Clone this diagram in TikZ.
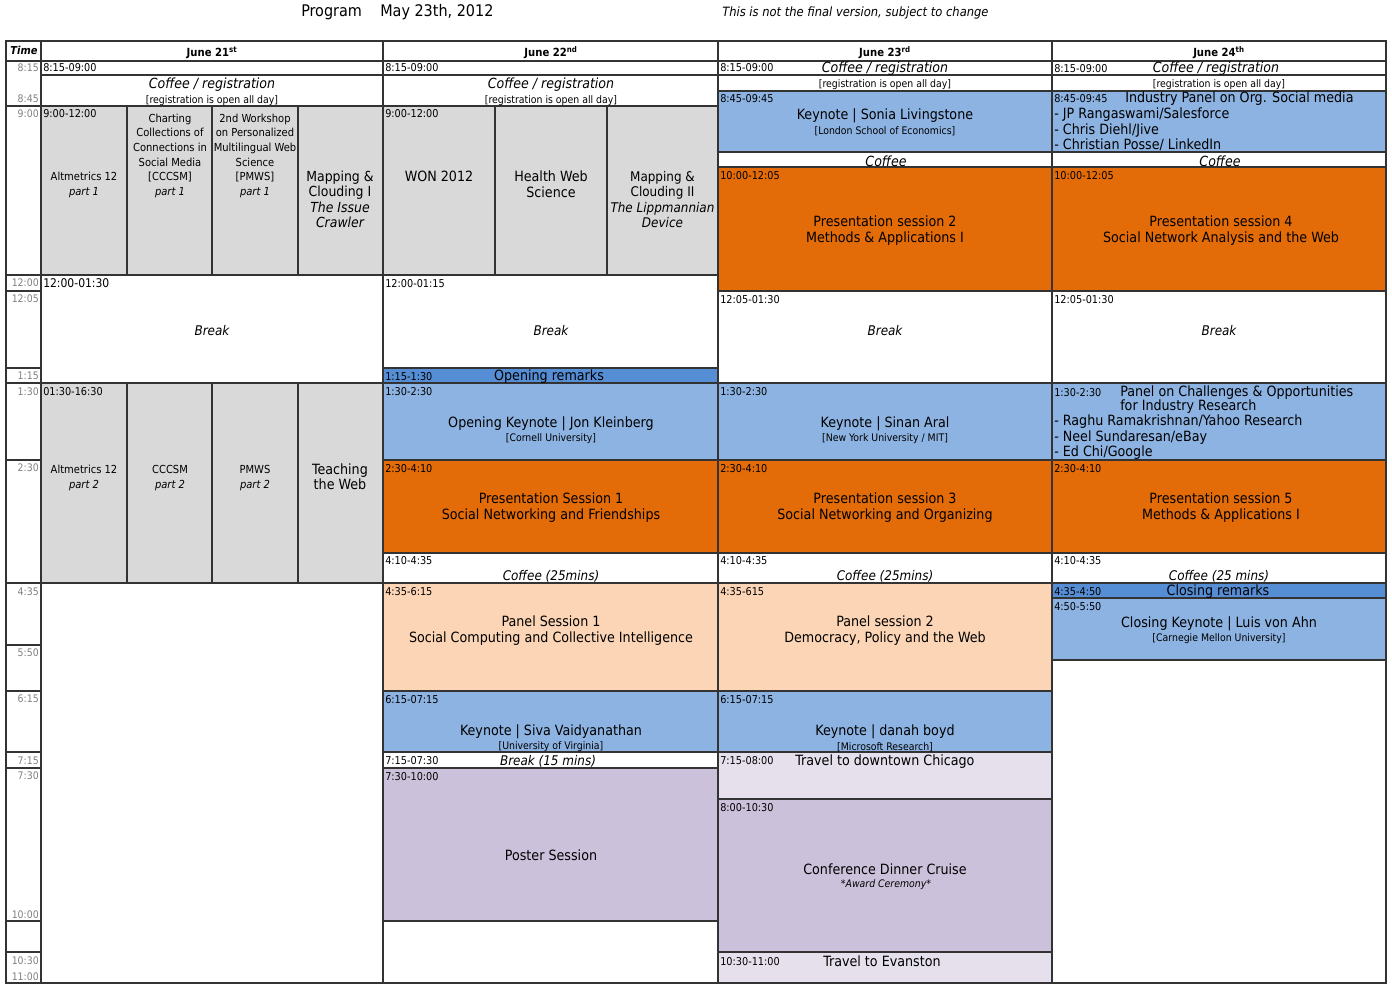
\documentclass[tikz,border=0pt]{standalone}
\usepackage{fontspec}
\setmainfont{DejaVu Sans Condensed}
\definecolor{cgray}{HTML}{D9D9D9}
\definecolor{lblue}{HTML}{8DB3E2}
\definecolor{mblue}{HTML}{558ED5}
\definecolor{orng}{HTML}{E36C09}
\definecolor{peach}{HTML}{FBD5B5}
\definecolor{lav}{HTML}{CCC1DA}
\definecolor{llav}{HTML}{E5E0EC}
\definecolor{tgray}{HTML}{808080}
\definecolor{lines}{HTML}{333333}
\newcommand\bx[5]{\path[boxline,fill=#5] (#1,#2) rectangle (#3,#4);}
\begin{document}
\begin{tikzpicture}[x=0.75pt,y=-0.75pt,
  boxline/.style={draw=lines,line width=0.9pt},
  tl/.style={anchor=west,inner sep=0pt,font=\fontsize{8.1}{9}\selectfont},
  gl/.style={anchor=east,inner sep=0pt,text=tgray,font=\fontsize{7.8}{9}\selectfont},
  big/.style={inner sep=0pt,align=center,yshift=-1.1pt,font=\fontsize{10.6}{12}\selectfont},
  bigl/.style={inner sep=0pt,anchor=west,align=left,yshift=-0.8pt,font=\fontsize{10.6}{12}\selectfont},
  ital/.style={inner sep=0pt,align=center,yshift=-1pt,font=\fontsize{10.5}{12}\selectfont\itshape},
  sm/.style={inner sep=0pt,align=center,yshift=-0.8pt,font=\fontsize{7.8}{9}\selectfont},
  mid/.style={inner sep=0pt,align=center,yshift=-1pt,font=\fontsize{8.3}{10.95}\selectfont},
  hd/.style={inner sep=0pt,font=\fontsize{8.4}{10}\selectfont\bfseries},
]
\useasboundingbox (0,0) rectangle (1392,990);
\fill[white] (0,0) rectangle (1392,990);
% title
\node[anchor=west,inner sep=0pt,font=\fontsize{12}{14}\selectfont] (prog) at (301,12) {Program};
\node[anchor=west,inner sep=0pt,font=\fontsize{12}{14}\selectfont] (date) at (380,12) {May 23th, 2012};
\node[anchor=west,inner sep=0pt,font=\fontsize{9.6}{11}\selectfont\itshape] (note) at (722,13) {This is not the final version, subject to change};
% header
\bx{6}{41}{41}{61}{white}
\bx{41}{41}{383}{61}{white}
\bx{383}{41}{718}{61}{white}
\bx{718}{41}{1052}{61}{white}
\bx{1052}{41}{1386}{61}{white}
\node[hd,font=\fontsize{8.2}{10}\selectfont\bfseries\itshape] (time) at (24,50) {Time};
\node[hd] (d21) at (212,53) {June 21\textsuperscript{st}};
\node[hd] (d22) at (551,53) {June 22\textsuperscript{nd}};
\node[hd] (d23) at (885,53) {June 23\textsuperscript{rd}};
\node[hd] (d24) at (1219,53) {June 24\textsuperscript{th}};
% time column
\bx{6}{61}{41}{106}{white}
\bx{6}{106}{41}{275}{white}
\bx{6}{275}{41}{291}{white}
\bx{6}{291}{41}{368}{white}
\bx{6}{368}{41}{383}{white}
\bx{6}{383}{41}{460}{white}
\bx{6}{460}{41}{583}{white}
\bx{6}{583}{41}{645}{white}
\bx{6}{645}{41}{691}{white}
\bx{6}{691}{41}{752}{white}
\bx{6}{752}{41}{768}{white}
\bx{6}{768}{41}{921}{white}
\bx{6}{921}{41}{952}{white}
\bx{6}{952}{41}{983}{white}
\node[gl] (t815) at (39,68) {8:15};
\node[gl] (t845) at (39,99) {8:45};
\node[gl] (t900) at (39,114) {9:00};
\node[gl] (t1200) at (39,283) {12:00};
\node[gl] (t1205) at (39,299) {12:05};
\node[gl] (t115) at (39,376) {1:15};
\node[gl] (t130) at (39,392) {1:30};
\node[gl] (t230) at (39,468) {2:30};
\node[gl] (t435) at (39,592) {4:35};
\node[gl] (t550) at (39,653) {5:50};
\node[gl] (t615) at (39,699) {6:15};
\node[gl] (t715) at (39,761) {7:15};
\node[gl] (t730) at (39,776) {7:30};
\node[gl] (t1000) at (39,915) {10:00};
\node[gl] (t1030) at (39,961) {10:30};
\node[gl] (t1100) at (39,977) {11:00};
% ================= June 21
\bx{41}{61}{383}{75}{white}
\bx{41}{75}{383}{106}{white}
\bx{41}{106}{127}{275}{cgray}
\bx{127}{106}{212}{275}{cgray}
\bx{212}{106}{298}{275}{cgray}
\bx{298}{106}{383}{275}{cgray}
\bx{41}{275}{383}{383}{white}
\bx{41}{383}{127}{583}{cgray}
\bx{127}{383}{212}{583}{cgray}
\bx{212}{383}{298}{583}{cgray}
\bx{298}{383}{383}{583}{cgray}
\bx{41}{583}{383}{983}{white}
\node[tl] (a1) at (43,68) {8:15-09:00};
\node[ital] (a2) at (212,83) {Coffee / registration};
\node[sm] (a3) at (212,99.5) {[registration is open all day]};
\node[tl] (a4) at (43,114) {9:00-12:00};
\node[mid] (a5) at (84,183.5) {Altmetrics 12\\\itshape part 1};
\node[mid] (a6) at (170,154.5) {Charting\\Collections of\\Connections in\\Social Media\\{[CCCSM]}\\\itshape part 1};
\node[mid] (a7) at (255,154.5) {2nd Workshop\\on Personalized\\Multilingual Web\\Science\\{[PMWS]}\\\itshape part 1};
\node[big,font=\fontsize{10.4}{11.5}\selectfont] (a8) at (340,198) {Mapping \&\\Clouding I\\\itshape The Issue\\\itshape Crawler};
\node[tl] (a9) at (43,283.5) {\fontsize{9}{10}\selectfont 12:00-01:30};
\node[ital,font=\fontsize{10}{12}\selectfont\itshape] (a10) at (212,329) {Break};
\node[tl] (a11) at (43,392) {01:30-16:30};
\node[mid] (a12) at (84,476.5) {Altmetrics 12\\\itshape part 2};
\node[mid] (a13) at (170,476.5) {CCCSM\\\itshape part 2};
\node[mid] (a14) at (255,476.5) {PMWS\\\itshape part 2};
\node[big,font=\fontsize{10.6}{11.5}\selectfont] (a15) at (340,475.5) {Teaching\\the Web};
% ================= June 22
\bx{383}{61}{718}{75}{white}
\bx{383}{75}{718}{106}{white}
\bx{383}{106}{495}{275}{cgray}
\bx{495}{106}{607}{275}{cgray}
\bx{607}{106}{718}{275}{cgray}
\bx{383}{275}{718}{368}{white}
\bx{383}{368}{718}{383}{mblue}
\bx{383}{383}{718}{460}{lblue}
\bx{383}{460}{718}{553}{orng}
\bx{383}{553}{718}{583}{white}
\bx{383}{583}{718}{691}{peach}
\bx{383}{691}{718}{752}{lblue}
\bx{383}{752}{718}{768}{white}
\bx{383}{768}{718}{921}{lav}
\bx{383}{921}{718}{983}{white}
\node[tl] (b1) at (385,68) {8:15-09:00};
\node[ital] (b2) at (551,83) {Coffee / registration};
\node[sm] (b3) at (551,99.5) {[registration is open all day]};
\node[tl] (b4) at (385,114) {9:00-12:00};
\node[big] (b5) at (439,175) {WON 2012};
\node[big] (b6) at (551,182.5) {Health Web\\Science};
\node[big,font=\fontsize{10}{11.5}\selectfont] (b7) at (662.5,198) {Mapping \&\\Clouding II\\\itshape The Lippmannian\\\itshape Device};
\node[tl] (b8) at (385,283.5) {12:00-01:15};
\node[ital,font=\fontsize{10}{12}\selectfont\itshape] (b9) at (551,329) {Break};
\node[tl] (b10) at (385,376.5) {1:15-1:30};
\node[big] (b11) at (549,375) {Opening remarks};
\node[tl] (b12) at (385,391.5) {1:30-2:30};
\node[big] (b13) at (551,422) {Opening Keynote | Jon Kleinberg};
\node[sm] (b14) at (551,438) {[Cornell University]};
\node[tl] (b15) at (385,468.5) {2:30-4:10};
\node[big] (b16) at (551,506) {Presentation Session 1\\Social Networking and Friendships};
\node[tl] (b17) at (385,561) {4:10-4:35};
\node[ital,font=\fontsize{10}{12}\selectfont\itshape] (b18) at (551,575) {Coffee (25mins)};
\node[tl] (b19) at (385,592) {4:35-6:15};
\node[big] (b20) at (551,629.5) {Panel Session 1\\Social Computing and Collective Intelligence};
\node[tl] (b21) at (385,699.5) {6:15-07:15};
\node[big] (b22) at (551,730) {Keynote | Siva Vaidyanathan};
\node[sm] (b23) at (551,746) {[University of Virginia]};
\node[tl] (b24) at (385,761) {7:15-07:30};
\node[ital,font=\fontsize{10}{12}\selectfont\itshape] (b25) at (548,760) {Break (15 mins)};
\node[tl] (b26) at (385,776.5) {7:30-10:00};
\node[big] (b27) at (551,854) {Poster Session};
% ================= June 23
\bx{718}{61}{1052}{75}{white}
\bx{718}{75}{1052}{91}{white}
\bx{718}{91}{1052}{152}{lblue}
\bx{718}{152}{1052}{167}{white}
\bx{718}{167}{1052}{291}{orng}
\bx{718}{291}{1052}{383}{white}
\bx{718}{383}{1052}{460}{lblue}
\bx{718}{460}{1052}{553}{orng}
\bx{718}{553}{1052}{583}{white}
\bx{718}{583}{1052}{691}{peach}
\bx{718}{691}{1052}{752}{lblue}
\bx{718}{752}{1052}{799}{llav}
\bx{718}{799}{1052}{952}{lav}
\bx{718}{952}{1052}{983}{llav}
\node[tl] (c1) at (720,68) {8:15-09:00};
\node[ital] (c2) at (885,67.5) {Coffee / registration};
\node[sm] (c3) at (885,84) {[registration is open all day]};
\node[tl] (c4) at (720,99) {8:45-09:45};
\node[big] (c5) at (885,114) {Keynote | Sonia Livingstone};
\node[sm] (c6) at (885,130) {[London School of Economics]};
\node[ital] (c7) at (886,160) {Coffee};
\node[tl] (c8) at (720,176) {10:00-12:05};
\node[big] (c9) at (885,229) {Presentation session 2\\Methods \& Applications I};
\node[tl] (c10) at (720,299.5) {12:05-01:30};
\node[ital,font=\fontsize{10}{12}\selectfont\itshape] (c11) at (885,329) {Break};
\node[tl] (c12) at (720,391.5) {1:30-2:30};
\node[big] (c13) at (885,422) {Keynote | Sinan Aral};
\node[sm] (c14) at (885,438) {[New York University / MIT]};
\node[tl] (c15) at (720,468.5) {2:30-4:10};
\node[big] (c16) at (885,506) {Presentation session 3\\Social Networking and Organizing};
\node[tl] (c17) at (720,561) {4:10-4:35};
\node[ital,font=\fontsize{10}{12}\selectfont\itshape] (c18) at (885,575) {Coffee (25mins)};
\node[tl] (c19) at (720,592) {4:35-615};
\node[big] (c20) at (885,629.5) {Panel session 2\\Democracy, Policy and the Web};
\node[tl] (c21) at (720,699.5) {6:15-07:15};
\node[big] (c22) at (885,730) {Keynote | danah boyd};
\node[sm] (c23) at (885,746) {[Microsoft Research]};
\node[tl] (c24) at (720,761) {7:15-08:00};
\node[big] (c25) at (885,760) {Travel to downtown Chicago};
\node[tl] (c26) at (720,807.5) {8:00-10:30};
\node[big] (c27) at (885,868) {Conference Dinner Cruise};
\node[sm,font=\fontsize{7.8}{9}\selectfont\itshape] (c28) at (886,884) {*Award Ceremony*};
\node[tl] (c29) at (720,961.5) {10:30-11:00};
\node[big] (c30) at (882,960) {Travel to Evanston};
% ================= June 24
\bx{1052}{61}{1386}{75}{white}
\bx{1052}{75}{1386}{91}{white}
\bx{1052}{91}{1386}{152}{lblue}
\bx{1052}{152}{1386}{167}{white}
\bx{1052}{167}{1386}{291}{orng}
\bx{1052}{291}{1386}{383}{white}
\bx{1052}{383}{1386}{460}{lblue}
\bx{1052}{460}{1386}{553}{orng}
\bx{1052}{553}{1386}{583}{white}
\bx{1052}{583}{1386}{598}{mblue}
\bx{1052}{598}{1386}{660}{lblue}
\bx{1052}{660}{1386}{983}{white}
\node[tl] (e1) at (1054,68.5) {8:15-09:00};
\node[ital] (e2) at (1216,67.5) {Coffee / registration};
\node[sm] (e3) at (1219,84) {[registration is open all day]};
\node[tl] (e4) at (1054,99) {8:45-09:45};
\node[bigl] (e5) at (1125,98) {Industry Panel on Org. Social media};
\node[bigl] (e6) at (1054,114) {- JP Rangaswami/Salesforce};
\node[bigl] (e7) at (1054,129) {- Chris Diehl/Jive};
\node[bigl] (e8) at (1054,144) {- Christian Posse/ LinkedIn};
\node[ital] (e9) at (1220,160) {Coffee};
\node[tl] (e10) at (1054,176) {10:00-12:05};
\node[big] (e11) at (1221,229) {Presentation session 4\\Social Network Analysis and the Web};
\node[tl] (e12) at (1054,299.5) {12:05-01:30};
\node[ital,font=\fontsize{10}{12}\selectfont\itshape] (e13) at (1219,329) {Break};
\node[tl] (e14) at (1054,393) {1:30-2:30};
\node[bigl] (e15) at (1120,392) {Panel on Challenges \& Opportunities};
\node[bigl] (e16) at (1120,406) {for Industry Research};
\node[bigl] (e17) at (1054,421) {- Raghu Ramakrishnan/Yahoo Research};
\node[bigl] (e18) at (1054,437) {- Neel Sundaresan/eBay};
\node[bigl] (e19) at (1054,452) {- Ed Chi/Google};
\node[tl] (e20) at (1054,468.5) {2:30-4:10};
\node[big] (e21) at (1221,506) {Presentation session 5\\Methods \& Applications I};
\node[tl] (e22) at (1054,561) {4:10-4:35};
\node[ital,font=\fontsize{10}{12}\selectfont\itshape] (e23) at (1219,575) {Coffee (25 mins)};
\node[tl] (e24) at (1054,591.5) {4:35-4:50};
\node[big] (e25) at (1218,590.5) {Closing remarks};
\node[tl] (e26) at (1054,607) {4:50-5:50};
\node[big] (e27) at (1219,622) {Closing Keynote | Luis von Ahn};
\node[sm] (e28) at (1219,638) {[Carnegie Mellon University]};
% outer frame
\draw[lines,line width=1.1pt] (6,41) rectangle (1386,983);
\end{tikzpicture}
\end{document}
